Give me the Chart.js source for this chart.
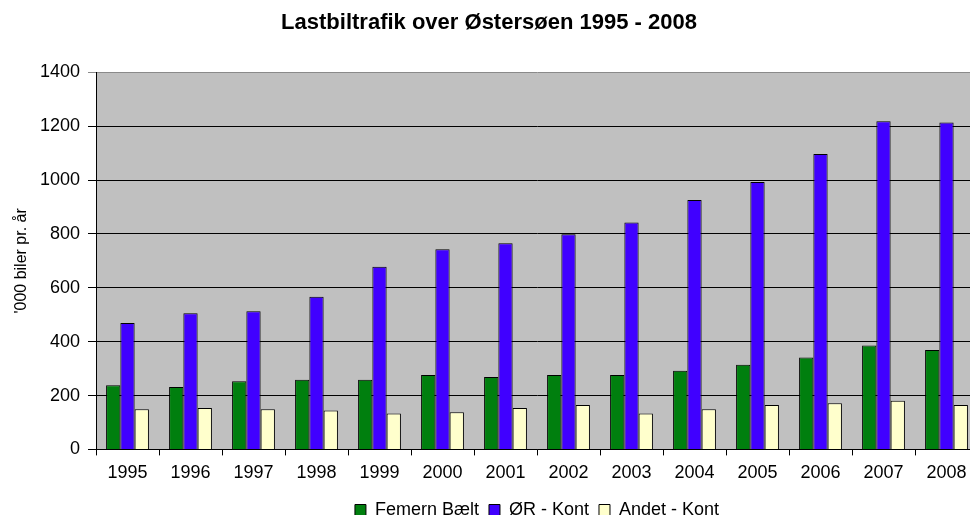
<!DOCTYPE html>
<html lang="da">
<head>
<meta charset="UTF-8">
<title>Lastbiltrafik over Østersøen 1995 - 2008</title>
<script src="https://cdn.jsdelivr.net/npm/chart.js"></script>
<style>
  html, body { margin: 0; padding: 0; background: #fff; overflow: hidden; }
</style>
</head>
<body>
<canvas id="graf" width="980" height="515"></canvas>
<script>
const aar = ['1995','1996','1997','1998','1999','2000','2001','2002','2003','2004','2005','2006','2007','2008'];
const femern = [238, 232, 253, 259, 259, 276, 269, 276, 276, 292, 314, 341, 386, 369];
const oresund = [469, 506, 513, 567, 678, 743, 766, 799, 843, 926, 993, 1097, 1219, 1214];
const andet = [149, 154, 149, 144, 133, 138, 154, 165, 133, 149, 165, 171, 181, 165];
const yMax = 1400;
const yStep = 200;

Chart.defaults.font.family = '"Liberation Sans", Arial, sans-serif';
Chart.defaults.color = '#000';

// graa baggrund i selve plotomraadet
const baggrund = {
  id: 'baggrund',
  beforeDraw(chart) {
    const { ctx, chartArea: a } = chart;
    ctx.save();
    ctx.fillStyle = '#c0c0c0';
    ctx.fillRect(a.left, a.top, a.right - a.left, a.bottom - a.top);
    ctx.restore();
  }
};

// legenden staar centreret under plotomraadet, ikke under hele billedet
const flytLegende = {
  id: 'flytLegende',
  afterLayout(chart) {
    chart.legend.left += 48;
    chart.legend.right += 48;
  }
};

const serie = (navn, data, farve) => ({
  label: navn,
  data: data,
  backgroundColor: farve,
  borderColor: '#000',
  borderWidth: 1,
  categoryPercentage: 0.68,
  barPercentage: 1.0
});

new Chart(document.getElementById('graf'), {
  type: 'bar',
  data: {
    labels: aar,
    datasets: [
      serie('Femern Bælt', femern, '#007f0e'),
      serie('ØR - Kont', oresund, '#4000ff'),
      serie('Andet - Kont', andet, '#ffffcc')
    ]
  },
  options: {
    responsive: false,
    animation: false,
    layout: { padding: { left: 0, right: 2, top: 0, bottom: -14 } },
    plugins: {
      title: {
        display: true,
        text: 'Lastbiltrafik over Østersøen 1995 - 2008',
        font: { size: 22, weight: 'bold' },
        color: '#000',
        padding: { top: 10, bottom: 36 }
      },
      legend: {
        position: 'bottom',
        labels: {
          boxWidth: 11,
          boxHeight: 11,
          font: { size: 18 },
          color: '#000',
          padding: 10
        }
      },
      tooltip: { enabled: false }
    },
    scales: {
      x: {
        grid: {
          display: true,
          drawOnChartArea: false,
          drawTicks: true,
          tickLength: 6,
          color: '#000',
          offset: true
        },
        border: { color: '#000', width: 1 },
        ticks: { font: { size: 18 }, color: '#000', padding: 7, maxRotation: 0, autoSkip: false }
      },
      y: {
        min: 0,
        max: yMax,
        afterFit(scale) { scale.width = 96; },
        grid: {
          color: ctx => (ctx.tick && ctx.tick.value === yMax) ? '#8a8a8a' : '#000',
          tickLength: 8,
          lineWidth: 1
        },
        border: { color: '#000', width: 1 },
        ticks: {
          stepSize: yStep,
          font: { size: 18 },
          color: '#000',
          padding: 8,
          callback: v => String(v)
        },
        title: {
          display: true,
          text: "'000 biler pr. år",
          font: { size: 16 },
          color: '#000',
          padding: { top: 12, bottom: 4 }
        }
      }
    }
  },
  plugins: [baggrund, flytLegende]
});
</script>
</body>
</html>
